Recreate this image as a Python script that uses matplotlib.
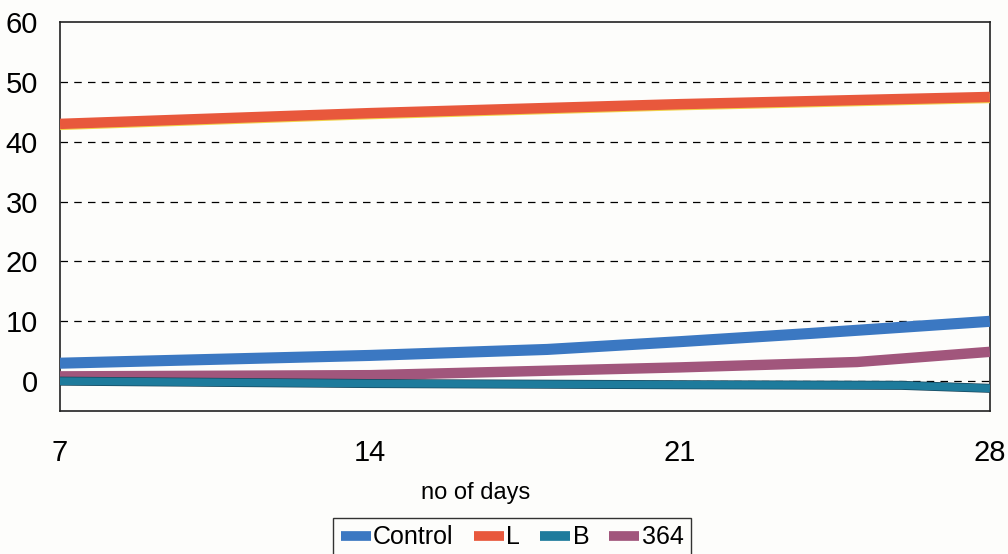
import numpy as np
import matplotlib.pyplot as plt
import matplotlib.patheffects as pe

plt.rcParams['font.family'] = ['Liberation Sans', 'DejaVu Sans']

# values
days_ctrl = [7, 14, 18, 21, 24, 28]
control = [3.0, 4.3, 5.3, 6.6, 8.0, 10.0]
days_l = [7, 14, 21, 28]
l_vals = [43.0, 44.8, 46.3, 47.5]
days_b = [7, 14, 21, 26, 28]
b_vals = [0.0, -0.4, -0.6, -0.7, -1.2]
days_364 = [7, 14, 21, 25, 28]
v364 = [0.8, 1.0, 2.3, 3.2, 4.9]
xticks = [7, 14, 21, 28]

fig = plt.figure(figsize=(10.08, 5.54), dpi=100)
fig.patch.set_facecolor('#fdfdfb')
ax = fig.add_axes([0.0595, 0.258, 0.9225, 0.702])
ax.set_facecolor('#fdfdfb')

for yv in range(0, 60, 10):
    ax.axhline(yv, color='black', lw=0.9, ls=(0, (6, 5)), zorder=1)

ax.plot(days_ctrl, control, color='#3b78c2', lw=8, solid_capstyle='butt', label='Control', zorder=3)
ax.plot(days_l, l_vals, color='#e8583c', lw=7.5, solid_capstyle='butt', label='L', zorder=3,
        path_effects=[pe.Stroke(linewidth=7, foreground='#f2d24a', offset=(0, -1.0)), pe.Normal()])
ax.plot(days_b, b_vals, color='#1e7b9c', lw=5.5, solid_capstyle='butt', label='B', zorder=4,
        path_effects=[pe.Stroke(linewidth=6.5, foreground='#17455a'), pe.Normal()])
ax.plot(days_364, v364, color='#a1567c', lw=7.5, solid_capstyle='butt', label='364', zorder=3)

ax.set_xlim(7, 28)
ax.set_ylim(-5, 60)
ax.set_xticks(xticks)
ax.set_yticks(range(0, 61, 10))
ax.tick_params(axis='both', length=0, labelsize=21)
ax.tick_params(axis='x', pad=20)
ax.tick_params(axis='y', pad=16)
for s in ax.spines.values():
    s.set_color('#222222')
    s.set_linewidth(1.2)

fig.text(0.472, 1 - 493 / 554, 'no of days', ha='center', va='center', fontsize=17)

leg = fig.legend(loc='center', bbox_to_anchor=(0.508, 0.03), ncol=4, fontsize=18,
                 handlelength=1.2, handletextpad=0.1, columnspacing=0.8,
                 frameon=True, fancybox=False, borderpad=0.3)
leg.get_frame().set_edgecolor('black')
leg.get_frame().set_linewidth(1.0)
leg.get_frame().set_facecolor('#fdfdfb')
for h in leg.legend_handles:
    h.set_linewidth(7)
    h.set_path_effects([])

fig.savefig('out.png', dpi=100, facecolor=fig.get_facecolor())
